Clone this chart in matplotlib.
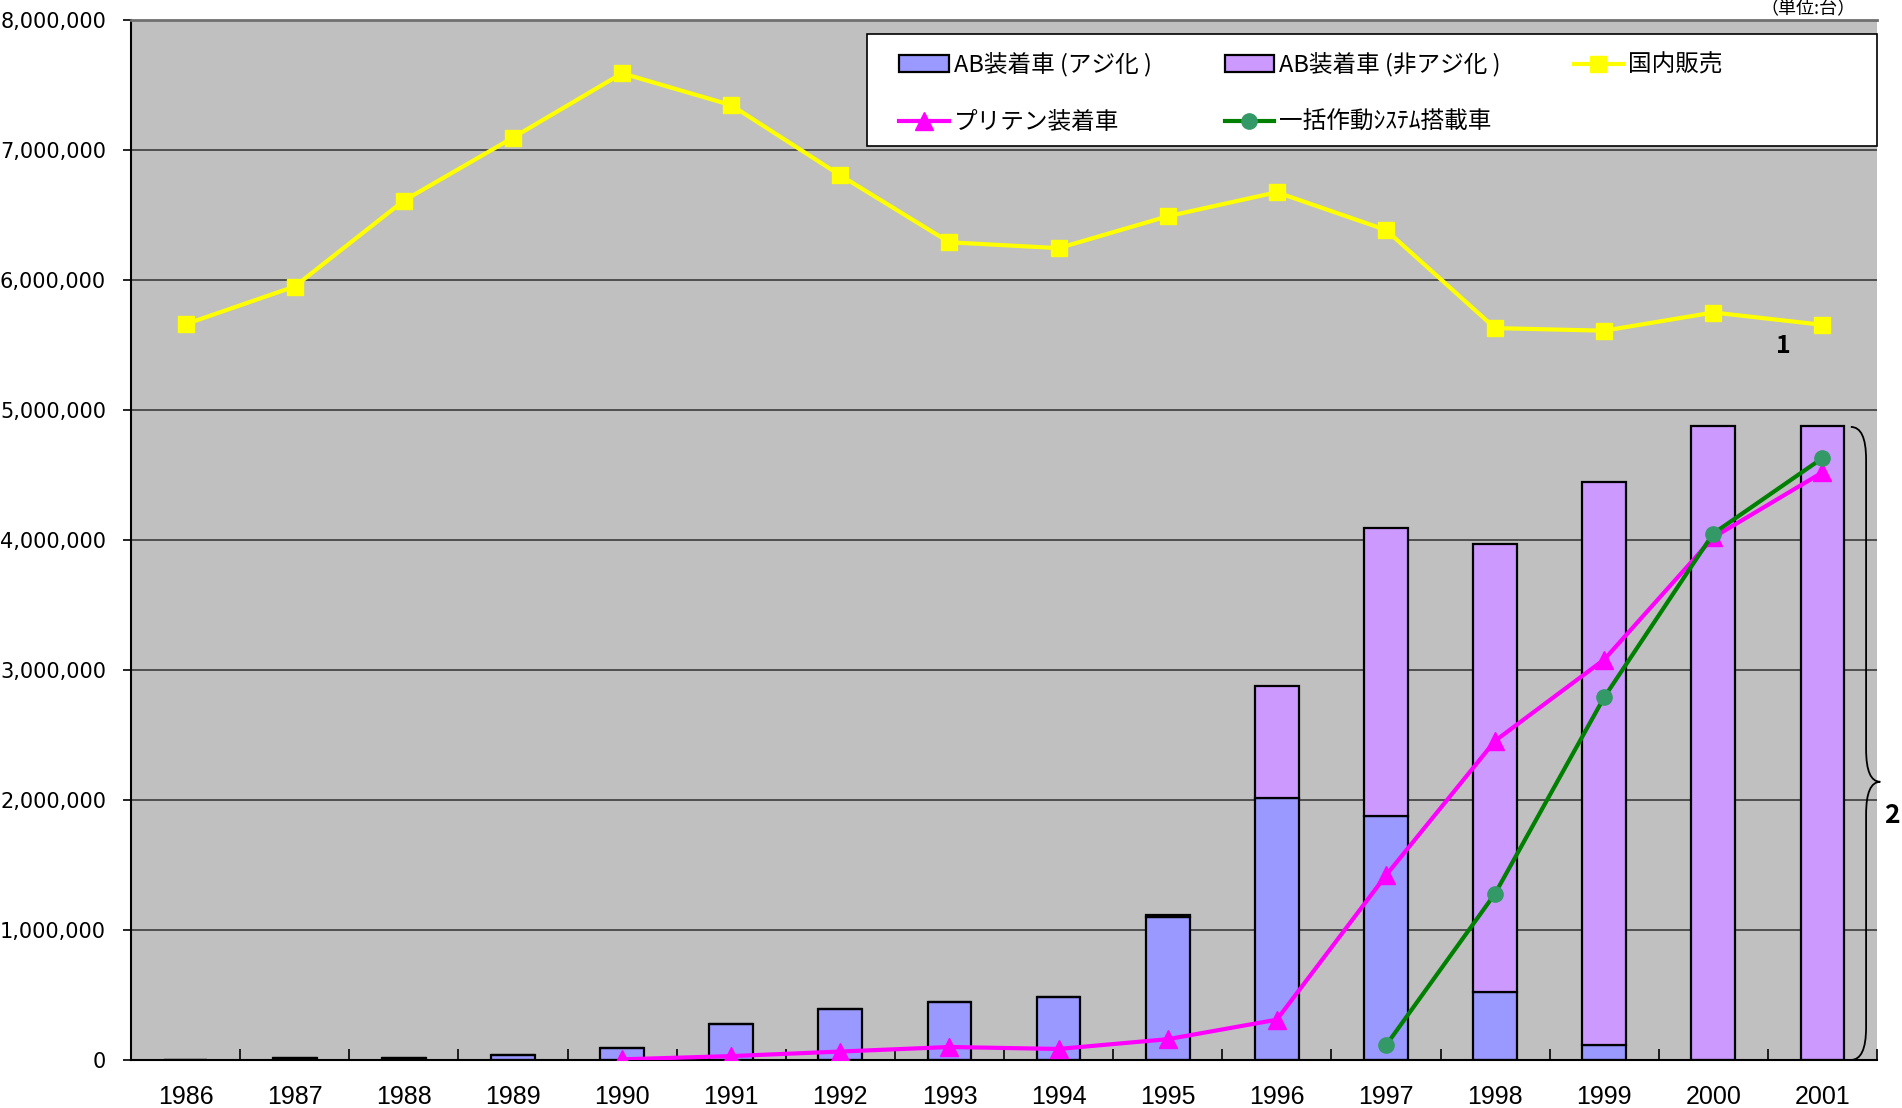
# -*- coding: utf-8 -*-

import matplotlib
matplotlib.use('Agg')
import matplotlib.pyplot as plt
import matplotlib.ticker as mticker
from matplotlib.path import Path
from matplotlib.patches import PathPatch, Rectangle
import numpy as np

nan = np.nan

years = ['1986', '1987', '1988', '1989', '1990', '1991', '1992', '1993',
         '1994', '1995', '1996', '1997', '1998', '1999', '2000', '2001']

# 国内販売
sales = [5660000, 5950000, 6610000, 7095000, 7590000, 7345000, 6805000, 6290000,
         6245000, 6490000, 6675000, 6385000, 5630000, 5610000, 5750000, 5655000]
# AB装着車 (アジ化)
ab_azi = [0, 12000, 15000, 35000, 92000, 277000, 390000, 450000,
          485000, 1100000, 2015000, 1880000, 523000, 115000, 0, 0]
# AB装着車 (非アジ化)
ab_non = [0, 0, 0, 0, 0, 0, 0, 0,
          0, 15000, 860000, 2210000, 3445000, 4330000, 4875000, 4875000]
# プリテン装着車
pretension = [nan, nan, nan, nan, 5000, 30000, 65000, 100000,
              85000, 160000, 310000, 1420000, 2455000, 3080000, 4020000, 4520000]
# 一括作動システム搭載車
ikkatsu = [nan, nan, nan, nan, nan, nan, nan, nan,
           nan, nan, nan, 112000, 1280000, 2790000, 4050000, 4630000]

jp = ['Noto Sans CJK JP', 'DejaVu Sans']
narrow = ['Liberation Sans Narrow', 'Liberation Sans', 'DejaVu Sans']

x = np.arange(len(years))

fig = plt.figure(figsize=(19.02, 11.08), dpi=100)
ax = fig.add_axes([131/1902., 1 - 1060/1108., (1877 - 131)/1902., (1060 - 20)/1108.])
ax.set_facecolor('#C0C0C0')

b1 = ax.bar(x, ab_azi, width=0.4, color='#9999FF', edgecolor='black', linewidth=1.6, zorder=2)
b2 = ax.bar(x, ab_non, width=0.4, bottom=ab_azi, color='#CC99FF', edgecolor='black', linewidth=1.6, zorder=2)

l1, = ax.plot(x, sales, color='#FFFF00', lw=3, marker='s', markersize=12,
              markerfacecolor='#FFFF00', markeredgecolor='#FFFF00', zorder=4)
l2, = ax.plot(x, pretension, color='#FF00FF', lw=3, marker='^', markersize=13,
              markerfacecolor='#FF00FF', markeredgecolor='#FF00FF', zorder=4)
l3, = ax.plot(x, ikkatsu, color='#008000', lw=3, marker='o', markersize=11,
              markerfacecolor='#339966', markeredgecolor='#339966', zorder=5)

ax.set_xlim(-0.5, 15.5)
ax.set_ylim(0, 8000000)
ax.yaxis.set_major_locator(mticker.MultipleLocator(1000000))
ax.yaxis.set_major_formatter(mticker.FuncFormatter(lambda v, p: '{:,.0f}'.format(v)))
ax.grid(axis='y', color='#303030', linewidth=1.1, zorder=1)
ax.set_axisbelow(True)

ax.set_xticks(x)
ax.set_xticklabels(years, family=narrow, fontsize=18)
ax.set_xticks(np.arange(-0.5, 16, 1), minor=True)
ax.tick_params(axis='x', which='major', length=0, pad=18)
ax.tick_params(axis='x', which='minor', direction='in', length=8, width=1.2)
ax.tick_params(axis='y', which='major', direction='out', length=6, width=1.2, labelsize=15, pad=12)
for lab in ax.get_yticklabels():
    lab.set_family('DejaVu Sans')

ax.spines['left'].set_linewidth(1.5)
ax.spines['bottom'].set_linewidth(1.5)
ax.spines['right'].set_visible(False)
ax.spines['top'].set_color('#707070')
ax.spines['top'].set_linewidth(2)

# legend box
box = Rectangle((867/1902., 1 - 146/1108.), (1877 - 867)/1902., (146 - 34)/1108.,
                transform=fig.transFigure, facecolor='white', edgecolor='black',
                linewidth=1.2, zorder=6)
ax.add_patch(box)
box.set_clip_on(False)

handles = [b1, l2, b2, l3, l1]
labels = ['AB装着車 (アジ化 )', 'プリテン装着車', 'AB装着車 (非アジ化 )', '一括作動ｼｽﾃﾑ搭載車', '国内販売']
leg = ax.legend(handles, labels, ncol=3, frameon=False, loc='upper left',
                bbox_to_anchor=(878/1902., 1 - 31/1108.), bbox_transform=fig.transFigure,
                prop={'family': jp, 'size': 17}, handlelength=2.1, handletextpad=0.2,
                columnspacing=3.1, labelspacing=1.45)
leg.set_zorder(7)

# annotations
ax.text(14.64, 5490000, '1', fontsize=18, fontweight='bold', family=jp,
        ha='center', va='center', zorder=6)

bx0, bx1, bx2 = 15.26, 15.40, 15.53
ytop, ymid, ybot = 4870000, 2140000, 0
verts = [(bx0, ytop), (bx1, ytop), (bx1, ytop - 250000),
         (bx1, ymid + 250000),
         (bx1, ymid), (bx2, ymid),
         (bx1, ymid), (bx1, ymid - 250000),
         (bx1, ybot + 250000),
         (bx1, ybot), (bx0, ybot)]
codes = [Path.MOVETO, Path.CURVE3, Path.CURVE3,
         Path.LINETO,
         Path.CURVE3, Path.CURVE3,
         Path.CURVE3, Path.CURVE3,
         Path.LINETO,
         Path.CURVE3, Path.CURVE3]
brace = PathPatch(Path(verts, codes), facecolor='none', edgecolor='black', lw=1.3,
                  clip_on=False, zorder=6)
ax.add_patch(brace)
ax.text(15.64, 1880000, '2', fontsize=19, fontweight='bold', family=jp,
        ha='center', va='center', clip_on=False)

fig.text(1808/1902., 0.9995, '（単位:台）', fontsize=13, family=jp, ha='center', va='top')

plt.savefig('out.png', dpi=100)
